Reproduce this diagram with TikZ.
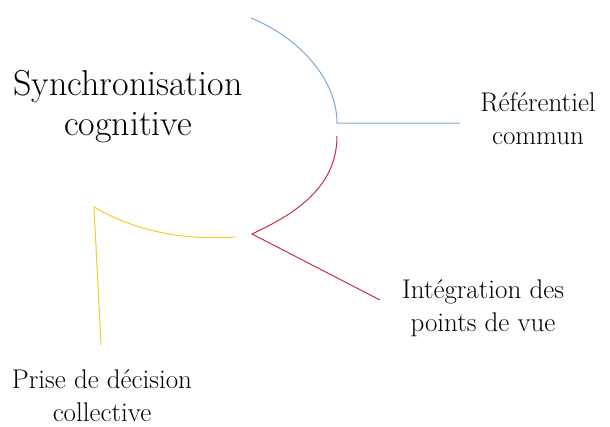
\documentclass[tikz,border=0pt]{standalone}
\usepackage{fontspec}
\begin{document}
\begin{tikzpicture}[x=1pt,y=-1pt,
  lbl/.style={align=center,inner sep=0pt},
  big/.style={font=\rmfamily\fontsize{36}{40}\selectfont},
  mid/.style={font=\rmfamily\fontsize{27}{33}\selectfont},
  arm/.style={line width=1pt}]
\definecolor{cblue}{RGB}{120,170,215}
\definecolor{cred}{RGB}{205,45,70}
\definecolor{cyel}{RGB}{240,205,40}
\useasboundingbox (0,0) rectangle (610,426);
% labels
\node[lbl,big] (sync) at (128,107) {Synchronisation\\cognitive};
\node[lbl,mid] (ref) at (538,119) {Référentiel\\commun};
\node[lbl,mid] (integ) at (483,308) {Intégration des\\points de vue};
\node[lbl,mid] (prise) at (102,396) {Prise de décision\\collective};
% blue arm
\coordinate (b0) at (251,18);
\coordinate (b1) at (337,123);
\coordinate (b2) at (460,123);
\draw[arm,cblue] (b0) .. controls (300,38) and (337,80) .. (b1) -- (b2);
% red arm
\coordinate (r0) at (337,136);
\coordinate (r1) at (252,234);
\coordinate (r2) at (380,300);
\draw[arm,cred] (r0) .. controls (337,190) and (290,216) .. (r1) -- (r2);
% yellow arm
\coordinate (y0) at (235,237);
\coordinate (y1) at (94,207);
\coordinate (y2) at (101,345);
\draw[arm,cyel] (y0) .. controls (190,240) and (140,234) .. (y1) -- (y2);
\end{tikzpicture}
\end{document}
